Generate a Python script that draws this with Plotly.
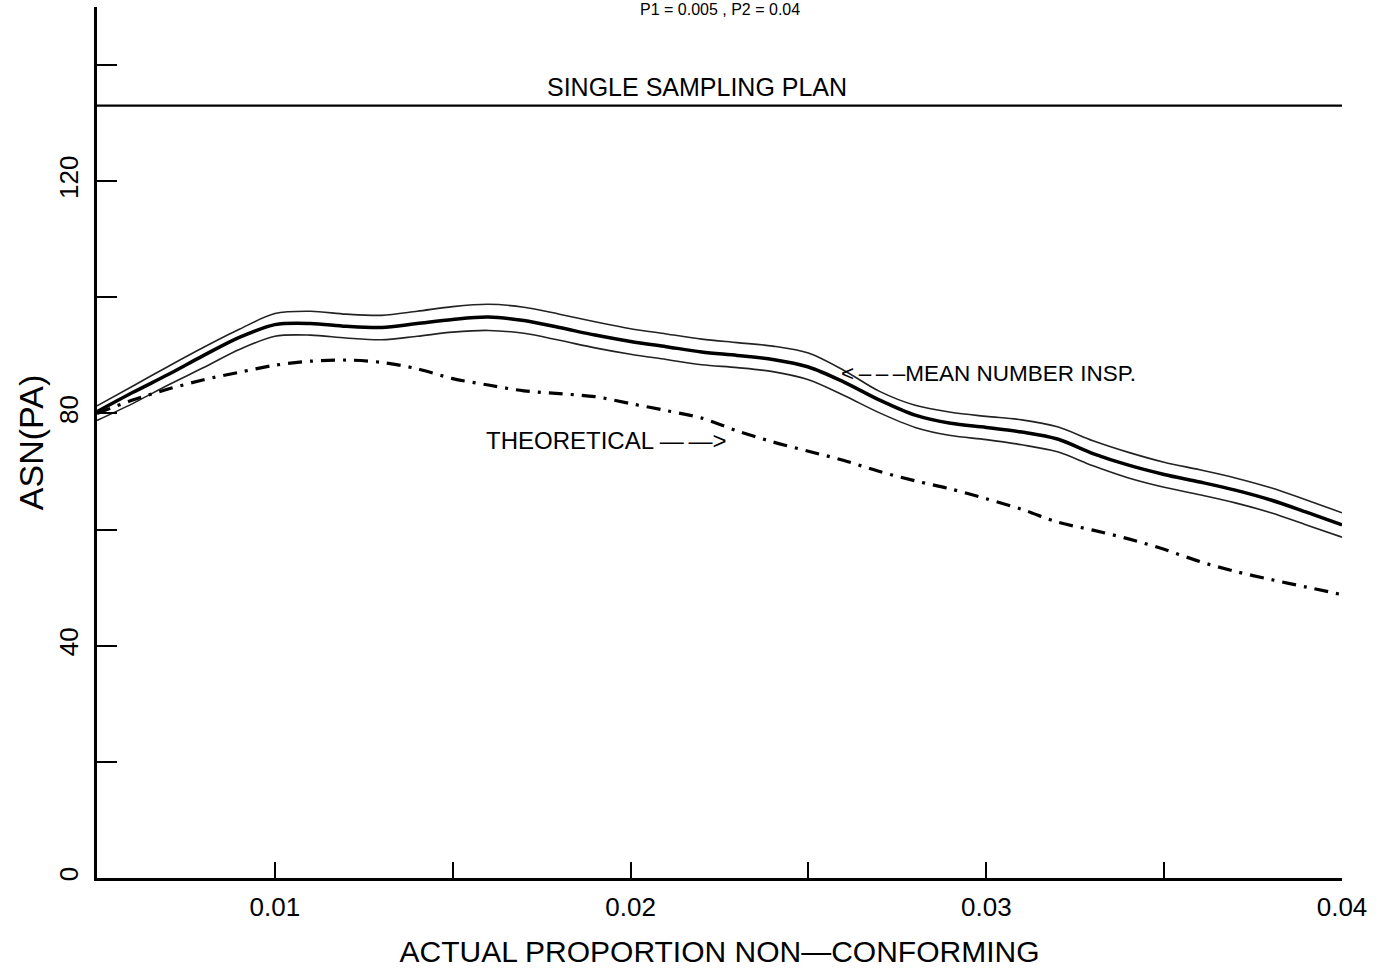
import plotly.graph_objects as go

# proporción real no conforme
p_actual = [0.005, 0.006, 0.007, 0.008, 0.009, 0.010, 0.011, 0.012, 0.013, 0.014,
            0.015, 0.016, 0.017, 0.018, 0.019, 0.020, 0.021, 0.022, 0.023, 0.024,
            0.025, 0.026, 0.027, 0.028, 0.029, 0.030, 0.031, 0.032, 0.033, 0.034,
            0.035, 0.036, 0.037, 0.038, 0.039, 0.040]

asn_mean = [80.3, 83.6, 86.7, 90.0, 93.1, 95.3, 95.5, 95.0, 94.8, 95.5,
            96.2, 96.6, 96.0, 94.8, 93.5, 92.4, 91.5, 90.6, 90.0, 89.3,
            88.0, 85.4, 82.3, 79.7, 78.3, 77.6, 76.8, 75.6, 73.1, 71.1,
            69.5, 68.2, 66.8, 65.1, 63.0, 60.8]

asn_upper = [81.3, 84.7, 88.1, 91.4, 94.5, 97.2, 97.6, 97.1, 96.9, 97.6,
             98.4, 98.8, 98.3, 97.1, 95.8, 94.6, 93.7, 92.8, 92.2, 91.6,
             90.4, 87.4, 83.8, 81.4, 80.2, 79.5, 78.9, 77.7, 75.3, 73.3,
             71.6, 70.3, 68.9, 67.2, 65.1, 62.9]

asn_lower = [78.8, 81.7, 84.9, 87.9, 91.0, 93.3, 93.5, 93.0, 92.7, 93.3,
             94.0, 94.3, 93.8, 92.6, 91.3, 90.2, 89.3, 88.4, 87.9, 87.2,
             85.8, 83.1, 80.1, 77.6, 76.2, 75.5, 74.6, 73.4, 71.0, 68.9,
             67.3, 66.0, 64.6, 62.9, 60.8, 58.7]

asn_theoretical = [80.0, 82.3, 84.2, 85.8, 87.1, 88.3, 89.0, 89.2, 88.8, 87.7,
                   86.0, 84.9, 83.9, 83.4, 82.9, 81.7, 80.5, 79.2, 77.0, 75.1,
                   73.5, 71.9, 70.0, 68.4, 67.0, 65.3, 63.5, 61.3, 59.9, 58.4,
                   56.6, 54.5, 52.8, 51.4, 50.1, 48.8]

single_plan_n = 133
x_range = [0.005, 0.04]

FONT = "Liberation Sans"

fig = go.Figure()

# plan de muestreo simple
fig.add_trace(go.Scatter(
    x=x_range, y=[single_plan_n, single_plan_n],
    mode="lines", line=dict(color="black", width=2.2),
))

# bandas alrededor de la media
for band in (asn_upper, asn_lower):
    fig.add_trace(go.Scatter(
        x=p_actual, y=band, mode="lines",
        line=dict(color="#222222", width=1.6, shape="spline", smoothing=0.9),
    ))

fig.add_trace(go.Scatter(
    x=p_actual, y=asn_mean, mode="lines",
    line=dict(color="black", width=3.5, shape="spline", smoothing=0.9),
))

fig.add_trace(go.Scatter(
    x=p_actual, y=asn_theoretical, mode="lines",
    line=dict(color="black", width=3.2, dash="14px,8px,3px,8px",
              shape="spline", smoothing=0.9),
))

fig.add_annotation(x=0.02188, y=136.3, text="SINGLE SAMPLING PLAN",
                   showarrow=False, font=dict(family=FONT, size=25, color="black"))
fig.add_annotation(x=0.02587, y=86.9,
                   text="<\u2009\u2013\u2009\u2013\u2009\u2013MEAN NUMBER INSP.",
                   xanchor="left", showarrow=False,
                   font=dict(family=FONT, size=22.5, color="black"))
fig.add_annotation(x=0.01587, y=75.4, text="THEORETICAL \u2014\u2009\u2014>",
                   xanchor="left", showarrow=False,
                   font=dict(family=FONT, size=24, color="black"))

# título en la franja superior
fig.add_annotation(xref="paper", yref="paper", x=0.5, y=1, yanchor="top",
                   yshift=8, text="P1 = 0.005 , P2 = 0.04", showarrow=False,
                   font=dict(family=FONT, size=16, color="black"))

fig.update_xaxes(
    range=x_range, showline=True, linewidth=3, linecolor="black",
    showgrid=False, zeroline=False,
    tick0=0, dtick=0.01, tickformat=".2f",
    ticks="inside", ticklen=16, tickwidth=2, tickcolor="black",
    minor=dict(dtick=0.005, ticks="inside", ticklen=16, tickwidth=2, tickcolor="black"),
    tickfont=dict(family=FONT, size=26, color="black"),
    ticklabelstandoff=4,
    title=dict(text="ACTUAL PROPORTION NON\u2014CONFORMING",
               font=dict(family=FONT, size=30, color="black"), standoff=20),
)
fig.update_yaxes(
    range=[0, 150], showline=True, linewidth=3, linecolor="black",
    showgrid=False, zeroline=False,
    tick0=0, dtick=40, tickangle=-90,
    ticks="inside", ticklen=20, tickwidth=2, tickcolor="black",
    minor=dict(dtick=20, ticks="inside", ticklen=20, tickwidth=2, tickcolor="black"),
    tickfont=dict(family=FONT, size=26, color="black"),
    ticklabelstandoff=6,
    title=dict(text="ASN(PA)", font=dict(family=FONT, size=34, color="black"), standoff=0),
)

fig.update_layout(
    width=1385, height=972,
    margin=dict(l=97, r=43, t=7, b=94),
    paper_bgcolor="white", plot_bgcolor="white",
    showlegend=False,
)

fig.write_html("out.html", config={"displayModeBar": False},
               post_script="document.body.style.margin='0px';")
